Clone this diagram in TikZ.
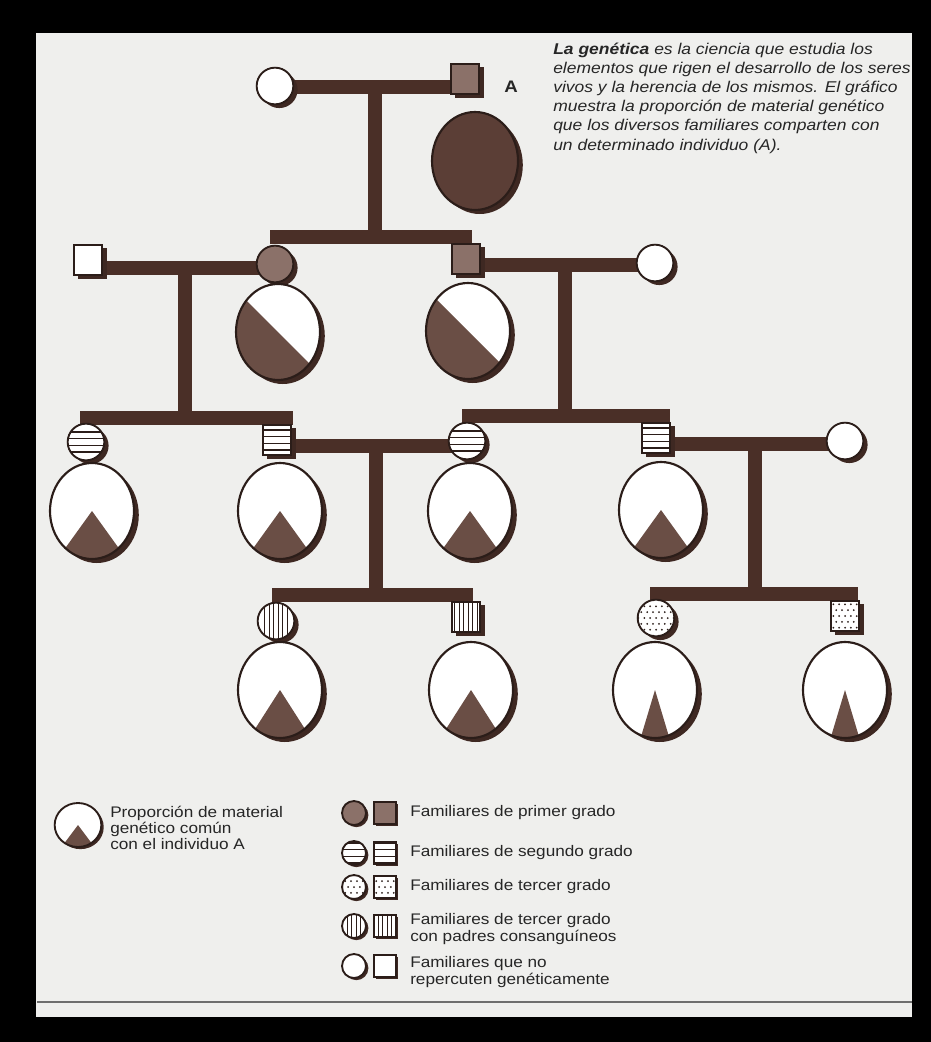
\documentclass[tikz,border=0pt]{standalone}
\usepackage{fontspec}
\setmainfont{Liberation Sans}
\newfontfamily\legfont[FakeStretch=1.12]{Liberation Sans}
\usetikzlibrary{shadows,shapes.geometric}
\definecolor{bg}{HTML}{EFEFED}
\definecolor{barc}{HTML}{4A2F27}
\definecolor{ink}{HTML}{2B1D19}
\definecolor{first}{HTML}{8B7169}
\definecolor{afill}{HTML}{5B3E36}
\definecolor{share}{HTML}{6A4E45}
\definecolor{shad}{HTML}{3E2822}
\definecolor{rule}{HTML}{6E6E6E}
\pgfdeclarelayer{bars}
\pgfsetlayers{bars,main}
\tikzset{
  pbase/.style={draw=ink, line width=1.4pt, inner sep=0pt, outer sep=0pt, fill=white},
  sshadow/.style={drop shadow={shadow xshift=3.2pt, shadow yshift=-2.8pt, opacity=1, fill=shad}},
  bshadow/.style={drop shadow={shadow xshift=3.6pt, shadow yshift=-3pt, opacity=1, fill=shad}},
  lshadow/.style={drop shadow={shadow xshift=1.8pt, shadow yshift=-1.6pt, opacity=1, fill=shad}},
  fem/.style={pbase, sshadow, circle, minimum size=27.5pt},
  male/.style={pbase, sshadow, rectangle, minimum width=21.5pt, minimum height=23pt},
  big/.style={pbase, bshadow, ellipse, line width=1.6pt, minimum width=63pt, minimum height=72pt},
  lfem/.style={pbase, lshadow, circle, minimum size=18pt},
  lmale/.style={pbase, lshadow, rectangle, minimum width=16.5pt, minimum height=16.5pt},
  hstripes/.style={path picture={\foreach \yy in {-7.5,-2.5,2.5,7.5}{\draw[ink,line width=1.1pt] ([yshift=\yy*1pt]path picture bounding box.west) -- ([yshift=\yy*1pt]path picture bounding box.east);}}},
  vstripes/.style={path picture={\foreach \xx in {-8.5,-5.1,-1.7,1.7,5.1,8.5}{\draw[ink,line width=0.9pt] ([xshift=\xx*1pt]path picture bounding box.north) -- ([xshift=\xx*1pt]path picture bounding box.south);}}},
  dots/.style={path picture={\foreach \xx in {-3,...,3}{\foreach \yy in {-3,...,3}{\fill[ink] ([shift={({(\xx+0.5*mod(\yy,2))*4.4pt},{\yy*4.4pt})}]path picture bounding box.center) circle (0.75pt);}}}},
  tri/.style={path picture={\fill[share] (path picture bounding box.center) -- ++({-#1*60pt},-60pt) -- ++({#1*120pt},0pt) -- cycle;}},
  half/.style={path picture={\fill[share] (path picture bounding box.center) ++(-60pt,60pt) -- ++(120pt,-120pt) -- ++(-120pt,0pt) -- cycle;}},
  barline/.style={draw=barc, line width=10pt, line cap=butt},
  legtext/.style={anchor=west, align=left, inner sep=0pt, font=\legfont\fontsize{11.5}{12.2}\selectfont, text=black!85},
}
\begin{document}
\begin{tikzpicture}[x=0.75pt,y=-0.75pt]
\begin{pgfonlayer}{bars}
  \fill[black] (0,0) rectangle (931,1042);
  \fill[bg] (36,33) rectangle (912,1017);
  \draw[rule, line width=1.5pt] (37,1002) -- (912,1002);
\end{pgfonlayer}

% generation 1
\node[fem] (g1w) at (275,86) {};
\node[male, fill=first] (A) at (465,79) {};
\node[font=\legfont\bfseries\fontsize{12.5}{13}\selectfont, text=black!85, inner sep=0pt] (Alab) at (511,87) {A};
\node[big, fill=afill, minimum width=64.5pt, minimum height=73.5pt] (Abig) at (475,161) {};

% generation 2
\node[male] (DH) at (88,260) {};
\node[fem, fill=first] (D) at (275,264) {};
\node[big, half] (Dbig) at (278,332) {};
\node[male, fill=first] (S) at (466,259) {};
\node[big, half] (Sbig) at (468,331) {};
\node[fem] (SW) at (655,263) {};

% generation 3
\node[fem, hstripes] (C1) at (86,442) {};
\node[big, tri=0.72] (C1big) at (92,511) {};
\node[male, hstripes] (C2) at (277,440) {};
\node[big, tri=0.72] (C2big) at (280,511) {};
\node[fem, hstripes] (C3) at (467,441) {};
\node[big, tri=0.72] (C3big) at (470,511) {};
\node[male, hstripes] (C4) at (656,438) {};
\node[big, tri=0.72] (C4big) at (661,510) {};
\node[fem] (C4W) at (845,441) {};

% generation 4
\node[fem, vstripes] (K1) at (276,621) {};
\node[big, tri=0.64] (K1big) at (280,690) {};
\node[male, vstripes] (K2) at (466,617) {};
\node[big, tri=0.64] (K2big) at (471,690) {};
\node[fem, dots] (K3) at (656,618) {};
\node[big, tri=0.3] (K3big) at (655,690) {};
\node[male, dots] (K4) at (845,616) {};
\node[big, tri=0.3] (K4big) at (845,690) {};

% junction coordinates
\coordinate (m1) at (375,87);
\coordinate (s1) at (375,237);
\coordinate (s1L) at (270,237);
\coordinate (s1R) at (472,237);
\coordinate (m2a) at (185,268);
\coordinate (s2a) at (185,418);
\coordinate (s2aL) at (80,418);
\coordinate (s2aR) at (293,418);
\coordinate (m2b) at (565,265);
\coordinate (s2b) at (565,416);
\coordinate (s2bL) at (462,416);
\coordinate (s2bR) at (670,416);
\coordinate (m3a) at (376,446);
\coordinate (s3a) at (376,595);
\coordinate (s3aL) at (272,595);
\coordinate (s3aR) at (473,595);
\coordinate (m3b) at (755,444);
\coordinate (s3b) at (755,594);
\coordinate (s3bL) at (650,594);
\coordinate (s3bR) at (858,594);

\begin{pgfonlayer}{bars}
  \draw[barline] (g1w.center |- m1) -- (A.center |- m1);
  \draw[barline] (m1) -- (s1);
  \draw[barline] (s1L) -- (s1R);
  \draw[barline] (DH.center |- m2a) -- (D.center |- m2a);
  \draw[barline] (m2a) -- (s2a);
  \draw[barline] (s2aL) -- (s2aR);
  \draw[barline] (S.center |- m2b) -- (SW.center |- m2b);
  \draw[barline] (m2b) -- (s2b);
  \draw[barline] (s2bL) -- (s2bR);
  \draw[barline] (C2.center |- m3a) -- (C3.center |- m3a);
  \draw[barline] (m3a) -- (s3a);
  \draw[barline] (s3aL) -- (s3aR);
  \draw[barline] (C4.center |- m3b) -- (C4W.center |- m3b);
  \draw[barline] (m3b) -- (s3b);
  \draw[barline] (s3bL) -- (s3bR);
\end{pgfonlayer}

% description text
\node[anchor=north west, align=left, inner sep=0pt, text=black!85,
      font=\legfont\itshape\fontsize{11.7}{14.3}\selectfont] (desc) at (553,43)
  {\textbf{La genética} es la ciencia que estudia los\\
   elementos que rigen el desarrollo de los seres\\
   vivos y la herencia de los mismos. El gráfico\\
   muestra la proporción de material genético\\
   que los diversos familiares comparten con\\
   un determinado individuo (A).};

% legend
\node[pbase, lshadow, ellipse, minimum width=35pt, minimum height=33pt, tri=0.75] (Lbig) at (78,825) {};
\node[legtext] (Ltxt) at (110,828) {Proporción de material\\genético común\\con el individuo A};

\node[lfem, fill=first] (L1c) at (354,813) {};
\node[lmale, fill=first] (L1s) at (385,813) {};
\node[legtext] (L1t) at (410,813) {Familiares de primer grado};

\node[lfem, hstripes] (L2c) at (354,853) {};
\node[lmale, hstripes] (L2s) at (385,853) {};
\node[legtext] (L2t) at (410,853) {Familiares de segundo grado};

\node[lfem, dots] (L3c) at (354,887) {};
\node[lmale, dots] (L3s) at (385,887) {};
\node[legtext] (L3t) at (410,887) {Familiares de tercer grado};

\node[lfem, vstripes] (L4c) at (354,926) {};
\node[lmale, vstripes] (L4s) at (385,926) {};
\node[legtext] (L4t) at (410,929) {Familiares de tercer grado\\con padres consanguíneos};

\node[lfem] (L5c) at (354,966) {};
\node[lmale] (L5s) at (385,966) {};
\node[legtext] (L5t) at (410,972) {Familiares que no\\repercuten genéticamente};
\end{tikzpicture}
\end{document}
